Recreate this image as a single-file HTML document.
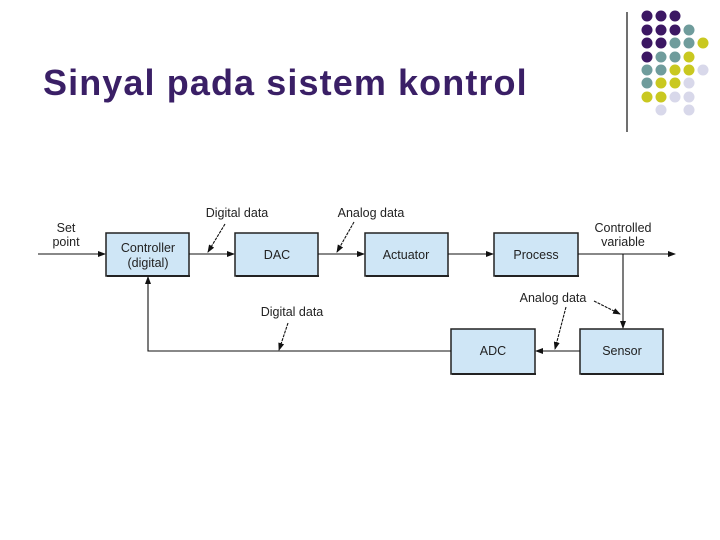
<!DOCTYPE html>
<html><head><style>
body{margin:0;width:720px;height:540px;background:#fff;overflow:hidden;position:relative;font-family:"Liberation Sans",sans-serif}
h1{position:absolute;left:43px;top:62px;margin:0;font-size:36px;font-weight:bold;color:#3a1f66;letter-spacing:1.1px}
</style></head><body>
<h1>Sinyal pada sistem kontrol</h1>
<svg width="720" height="540" style="position:absolute;left:0;top:0" font-family="Liberation Sans, sans-serif">
<line x1="627" y1="12" x2="627" y2="132" stroke="#222" stroke-width="1.3"/>
<g>
<circle cx="647" cy="16" r="5.5" fill="#3c1763"/><circle cx="661" cy="16" r="5.5" fill="#3c1763"/><circle cx="675" cy="16" r="5.5" fill="#3c1763"/>
<circle cx="647" cy="30" r="5.5" fill="#3c1763"/><circle cx="661" cy="30" r="5.5" fill="#3c1763"/><circle cx="675" cy="30" r="5.5" fill="#3c1763"/><circle cx="689" cy="30" r="5.5" fill="#6f9c9c"/>
<circle cx="647" cy="43" r="5.5" fill="#3c1763"/><circle cx="661" cy="43" r="5.5" fill="#3c1763"/><circle cx="675" cy="43" r="5.5" fill="#6f9c9c"/><circle cx="689" cy="43" r="5.5" fill="#6f9c9c"/><circle cx="703" cy="43" r="5.5" fill="#c9c820"/>
<circle cx="647" cy="57" r="5.5" fill="#3c1763"/><circle cx="661" cy="57" r="5.5" fill="#6f9c9c"/><circle cx="675" cy="57" r="5.5" fill="#6f9c9c"/><circle cx="689" cy="57" r="5.5" fill="#c9c820"/>
<circle cx="647" cy="70" r="5.5" fill="#6f9c9c"/><circle cx="661" cy="70" r="5.5" fill="#6f9c9c"/><circle cx="675" cy="70" r="5.5" fill="#c9c820"/><circle cx="689" cy="70" r="5.5" fill="#c9c820"/><circle cx="703" cy="70" r="5.5" fill="#d8d8ea"/>
<circle cx="647" cy="83" r="5.5" fill="#6f9c9c"/><circle cx="661" cy="83" r="5.5" fill="#c9c820"/><circle cx="675" cy="83" r="5.5" fill="#c9c820"/><circle cx="689" cy="83" r="5.5" fill="#d8d8ea"/>
<circle cx="647" cy="97" r="5.5" fill="#c9c820"/><circle cx="661" cy="97" r="5.5" fill="#c9c820"/><circle cx="675" cy="97" r="5.5" fill="#d8d8ea"/><circle cx="689" cy="97" r="5.5" fill="#d8d8ea"/>
<circle cx="661" cy="110" r="5.5" fill="#d8d8ea"/><circle cx="689" cy="110" r="5.5" fill="#d8d8ea"/>
</g>
<defs><marker id="a" markerWidth="8" markerHeight="6" refX="7" refY="3" orient="auto" markerUnits="userSpaceOnUse"><path d="M0,0 L8,3 L0,6z" fill="#111"/></marker></defs>
<g fill="#cfe6f6" stroke="#222" stroke-width="1.5">
<rect x="106" y="233" width="83" height="43"/>
<rect x="235" y="233" width="83" height="43"/>
<rect x="365" y="233" width="83" height="43"/>
<rect x="494" y="233" width="84" height="43"/>
<rect x="451" y="329" width="84" height="45"/>
<rect x="580" y="329" width="83" height="45"/>
</g>
<g stroke="#222" stroke-width="2">
<line x1="107" y1="276" x2="190" y2="276"/><line x1="236" y1="276" x2="319" y2="276"/>
<line x1="366" y1="276" x2="449" y2="276"/><line x1="495" y1="276" x2="579" y2="276"/>
<line x1="452" y1="374" x2="536" y2="374"/><line x1="581" y1="374" x2="664" y2="374"/>
</g>
<g stroke="#111" stroke-width="1.1" fill="none">
<line x1="38" y1="254" x2="105" y2="254" marker-end="url(#a)"/>
<line x1="189" y1="254" x2="234" y2="254" marker-end="url(#a)"/>
<line x1="318" y1="254" x2="364" y2="254" marker-end="url(#a)"/>
<line x1="448" y1="254" x2="493" y2="254" marker-end="url(#a)"/>
<line x1="578" y1="254" x2="675" y2="254" marker-end="url(#a)"/>
<line x1="623" y1="254" x2="623" y2="328" marker-end="url(#a)"/>
<line x1="580" y1="351" x2="536" y2="351" marker-end="url(#a)"/>
<polyline points="451,351 148,351 148,277" marker-end="url(#a)"/>
<line x1="225" y1="224" x2="208" y2="252" stroke-dasharray="3,1" marker-end="url(#a)"/>
<line x1="354" y1="222" x2="337" y2="252" stroke-dasharray="3,1" marker-end="url(#a)"/>
<line x1="288" y1="323" x2="279" y2="350" stroke-dasharray="3,1" marker-end="url(#a)"/>
<line x1="566" y1="307" x2="555" y2="349" stroke-dasharray="3,1" marker-end="url(#a)"/>
<line x1="594" y1="301" x2="620" y2="314" stroke-dasharray="3,1" marker-end="url(#a)"/>
</g>
<g font-size="12.5" fill="#222" text-anchor="middle">
<text x="66" y="232">Set</text><text x="66" y="246">point</text>
<text x="148" y="252">Controller</text><text x="148" y="267">(digital)</text>
<text x="277" y="259">DAC</text>
<text x="406" y="259">Actuator</text>
<text x="536" y="259">Process</text>
<text x="493" y="355">ADC</text>
<text x="622" y="355">Sensor</text>
<text x="623" y="232">Controlled</text><text x="623" y="246">variable</text>
<text x="237" y="217">Digital data</text>
<text x="371" y="217">Analog data</text>
<text x="292" y="316">Digital data</text>
<text x="553" y="302">Analog data</text>
</g>
</svg>
</body></html>
